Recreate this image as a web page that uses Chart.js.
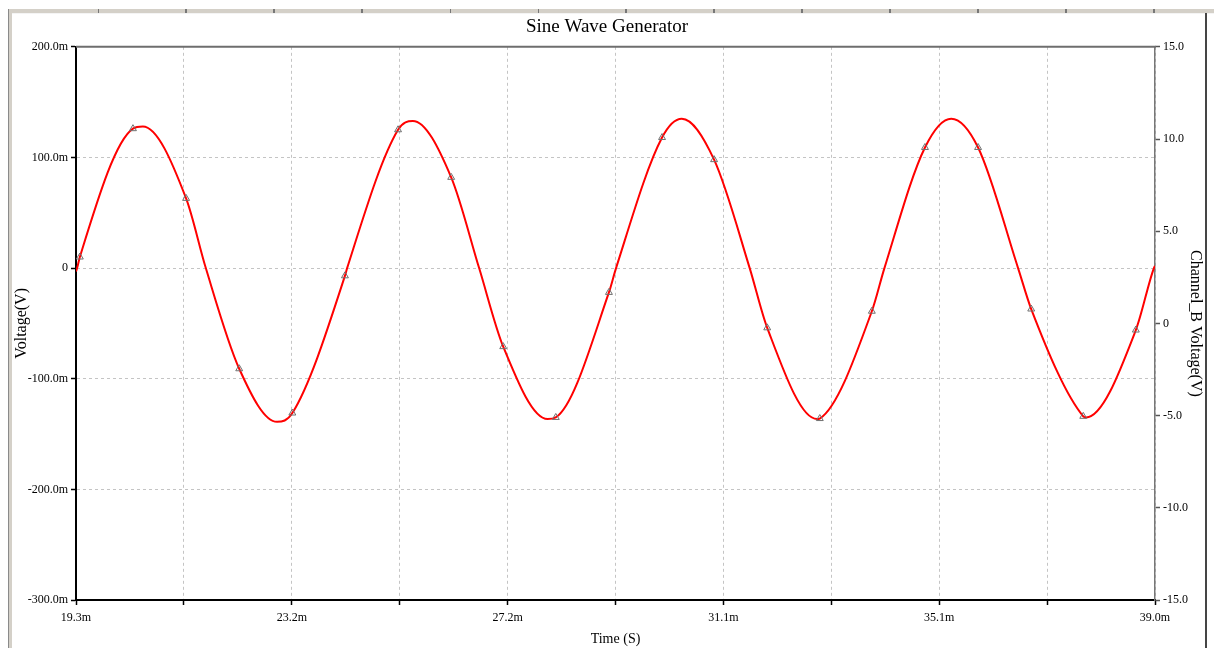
<!DOCTYPE html>
<html>
<head>
<meta charset="utf-8">
<script src="https://cdn.jsdelivr.net/npm/chart.js@4"></script>
<style>
body { margin: 0; background: #fff; }
#wrap { position: relative; width: 1214px; height: 648px; }
.frame { position: absolute; }
#topbar { left: 8px; top: 9px; width: 1206px; height: 4px; background: #d4d0c8; border-bottom: 1px solid #f4f4f4;
  background-image: repeating-linear-gradient(to right, transparent 0, transparent 86.5px, #777 86.5px, #777 88px);
  background-position: 3px 0; }
#leftbar { left: 8px; top: 9px; width: 3px; height: 639px; background: #d4d0c8; border-left: 1px solid #8a8a8a; }
#rightbar { left: 1205px; top: 13px; width: 2px; height: 635px; background: #454545; }
</style>
</head>
<body>
<div id="wrap">
  <canvas id="canvas"></canvas>
  <div class="frame" id="topbar"></div>
  <div class="frame" id="leftbar"></div>
  <div class="frame" id="rightbar"></div>
</div>
<script>
// time in ms, voltage in mV
var markerTime = [19.37, 20.34, 21.31, 22.28, 23.25, 24.21, 25.18, 26.15, 27.10, 28.06, 29.03,
                  30.00, 30.95, 31.92, 32.88, 33.83, 34.80, 35.77, 36.74, 37.69, 38.65];
var markerVolt = [10, 126, 63, -91, -131, -7, 125, 82, -71, -135, -22,
                  118, 98, -54, -136, -39, 109, 109, -37, -134, -56];

// trace: markers plus peaks, troughs and zero crossings
var traceTime = [19.30, 19.32, 19.37, 20.34, 20.52, 21.31, 21.67, 22.28, 22.97, 23.25, 24.21, 24.25,
                 25.18, 25.45, 26.15, 26.66, 27.10, 27.91, 28.06, 29.03, 29.16, 30.00, 30.36, 30.95,
                 31.60, 31.92, 32.83, 32.88, 33.83, 34.06, 34.80, 35.28, 35.77, 36.50, 36.74, 37.69,
                 37.74, 38.65, 38.98, 39.00];
var traceVolt = [-3, 0, 10, 126, 128, 63, 0, -91, -139, -131, -7, 0,
                 125, 133, 82, 0, -71, -136.5, -135, -22, 0, 118, 135, 98,
                 0, -54, -136.5, -136, -39, 0, 109, 135, 109, 0, -37, -134,
                 -135, -56, 0, 2];

var xTicks = [19.3, 21.27, 23.24, 25.21, 27.18, 29.15, 31.12, 33.09, 35.06, 37.03, 39.0];
var xTickLabels = ['19.3m', '', '23.2m', '', '27.2m', '', '31.1m', '', '35.1m', '', '39.0m'];
var leftTicks = [-300, -200, -100, 0, 100, 200];
var leftTickLabels = ['-300.0m', '-200.0m', '-100.0m', '0', '100.0m', '200.0m'];
var rightTicks = [-15, -10, -5, 0, 5, 10, 15];
var rightTickLabels = ['-15.0', '-10.0', '-5.0', '0', '5.0', '10.0', '15.0'];

function toPoints(xs, ys) {
    var pts = [];
    for (var i = 0; i < xs.length; i++) {
        pts.push({ x: xs[i], y: ys[i] });
    }
    return pts;
}

function setTicks(values) {
    return function (scale) {
        scale.ticks = values.map(function (v) { return { value: v }; });
    };
}

function labelsFrom(list) {
    return function (value, index) { return list[index]; };
}

var serif = 'Liberation Serif, Times New Roman, serif';

var topBorder = {
    id: 'topBorder',
    afterDraw: function (chart) {
        var a = chart.chartArea;
        var ctx = chart.ctx;
        ctx.save();
        ctx.strokeStyle = '#6e6e6e';
        ctx.lineWidth = 2;
        ctx.beginPath();
        ctx.moveTo(a.left, a.top);
        ctx.lineTo(a.right + 1, a.top);
        ctx.stroke();
        ctx.restore();
    }
};

var config = {
    type: 'line',
    data: {
        datasets: [
            {
                label: 'markers',
                data: toPoints(markerTime, markerVolt),
                showLine: false,
                pointStyle: 'triangle',
                pointRadius: 4,
                pointBorderColor: '#707070',
                pointBackgroundColor: 'rgba(0,0,0,0)',
                pointBorderWidth: 1,
                order: 0
            },
            {
                label: 'Channel_A',
                data: toPoints(traceTime, traceVolt),
                borderColor: '#ff0000',
                borderWidth: 2,
                pointRadius: 0,
                cubicInterpolationMode: 'monotone',
                fill: false,
                order: 1
            }
        ]
    },
    options: {
        responsive: true,
        maintainAspectRatio: false,
        devicePixelRatio: 1,
        animation: false,
        layout: { padding: 0 },
        plugins: {
            legend: { display: false },
            tooltip: { enabled: false },
            title: {
                display: true,
                text: 'Sine Wave Generator',
                color: '#000',
                font: { family: serif, size: 19, weight: 'normal' },
                padding: { top: 16, bottom: 8 }
            }
        },
        scales: {
            x: {
                type: 'linear',
                min: 19.3,
                max: 39.0,
                afterBuildTicks: setTicks(xTicks),
                afterFit: function (scale) { scale.height = 48; },
                ticks: {
                    callback: labelsFrom(xTickLabels),
                    autoSkip: false,
                    maxRotation: 0,
                    color: '#000',
                    padding: 6,
                    font: { family: serif, size: 12 }
                },
                grid: { color: '#c4c4c4', lineWidth: 1, tickColor: '#000', tickLength: 5, tickWidth: 1.5 },
                border: { display: true, color: '#000', width: 2, dash: [3, 3] },
                title: {
                    display: true,
                    text: 'Time (S)',
                    color: '#000',
                    font: { family: serif, size: 14 },
                    padding: { top: 0, bottom: 0 }
                }
            },
            y: {
                type: 'linear',
                position: 'left',
                min: -300,
                max: 200,
                afterBuildTicks: setTicks(leftTicks),
                afterFit: function (scale) { scale.width = 76; },
                ticks: {
                    callback: labelsFrom(leftTickLabels),
                    color: '#000',
                    padding: 3,
                    font: { family: serif, size: 12 }
                },
                grid: { color: '#c4c4c4', lineWidth: 1, tickColor: '#000', tickLength: 5, tickWidth: 1.5 },
                border: { display: true, color: '#000', width: 2, dash: [3, 3] },
                title: {
                    display: true,
                    text: 'Voltage(V)',
                    color: '#000',
                    font: { family: serif, size: 16 },
                    padding: { top: 12, bottom: 0 }
                }
            },
            y2: {
                type: 'linear',
                axis: 'y',
                position: 'right',
                min: -15,
                max: 15,
                afterBuildTicks: setTicks(rightTicks),
                afterFit: function (scale) { scale.width = 59; },
                ticks: {
                    callback: labelsFrom(rightTickLabels),
                    color: '#000',
                    padding: 3,
                    font: { family: serif, size: 12 }
                },
                grid: { drawOnChartArea: false, tickColor: '#555', tickLength: 5, tickWidth: 1.5 },
                border: { display: true, color: '#777', width: 1.5 },
                title: {
                    display: true,
                    text: 'Channel_B Voltage(V)',
                    color: '#000',
                    font: { family: serif, size: 16 },
                    padding: { top: 9, bottom: 0 }
                }
            }
        }
    },
    plugins: [topBorder]
};

var ctx = document.getElementById('canvas').getContext('2d');
window.myLine = new Chart(ctx, config);
</script>
</body>
</html>
